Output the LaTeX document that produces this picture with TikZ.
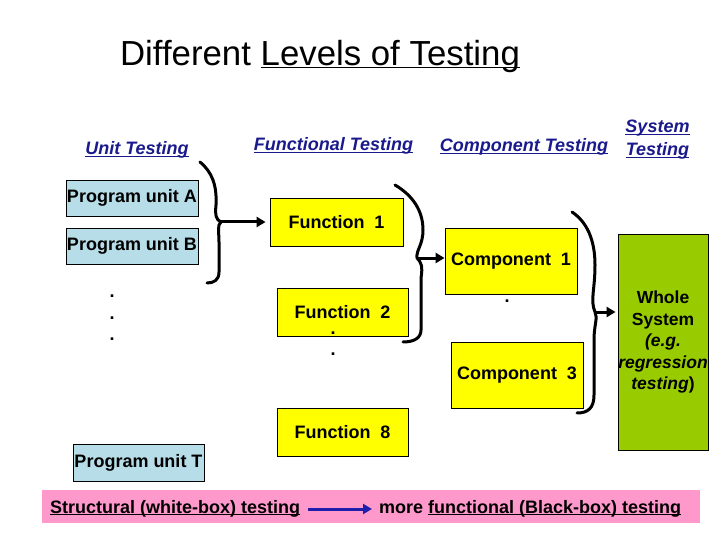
\documentclass[tikz,border=0pt]{standalone}
\usepackage{fontspec}
\setmainfont{Liberation Sans}
\usetikzlibrary{arrows.meta}
\definecolor{hdrblue}{RGB}{26,26,140}
\definecolor{arrblue}{RGB}{30,30,170}
\definecolor{unitblue}{RGB}{183,221,232}
\definecolor{boxyellow}{RGB}{255,255,0}
\definecolor{sysgreen}{RGB}{153,204,0}
\definecolor{barpink}{RGB}{255,153,204}
\newcommand{\myul}[1]{\leavevmode\setbox0\hbox{#1}\rlap{\rule[-2.4pt]{\wd0}{1.3pt}}\box0}
\tikzset{
  lbl/.style={font=\fontsize{18}{21}\selectfont\bfseries, inner sep=0pt},
  hdr/.style={font=\fontsize{18}{21}\selectfont\bfseries\itshape, text=hdrblue, inner sep=0pt, anchor=base},
  unitbox/.style={draw=black, line width=0.8pt, fill=unitblue, lbl, minimum width=132pt, minimum height=36pt},
  funbox/.style={draw=black, line width=0.8pt, fill=boxyellow, lbl, minimum width=132pt, minimum height=48pt},
  compbox/.style={draw=black, line width=0.8pt, fill=boxyellow, lbl, minimum width=132pt, minimum height=66pt},
  brace/.style={line width=3pt, line cap=round, line join=round},
  barrow/.style={line width=3pt, -{Triangle[length=9pt,width=10pt]}},
  dotlbl/.style={lbl, anchor=base, text height=2.5pt, text depth=0pt},
}
\begin{document}
\begin{tikzpicture}[x=1pt,y=-1pt]
\useasboundingbox (0,0) rectangle (720,540);
% title
\node[font=\fontsize{34.8}{40}\selectfont, inner sep=0pt, anchor=base] (title) at (320,66) {Different \myul{Levels of Testing}};
% headers
\node[hdr] (hunit) at (137,155) {\myul{Unit Testing}};
\node[hdr] (hfun) at (333.5,151) {\myul{Functional Testing}};
\node[hdr] (hcomp) at (524,152) {\myul{Component Testing}};
\node[hdr] (hsys1) at (657.5,133) {\myul{System}};
\node[hdr] (hsys2) at (657.5,156) {\myul{Testing}};
% unit boxes
\node[unitbox] (pa) at (132,198) {Program unit A};
\node[unitbox] (pb) at (132,246) {Program unit B};
\node[unitbox, minimum width=131pt, minimum height=37pt] (pt) at (138.5,462.5) {Program unit T};
\node[dotlbl] (ud1) at (112,297) {.};
\node[dotlbl] (ud2) at (112,319) {.};
\node[dotlbl] (ud3) at (112,340) {.};
% function boxes
\node[funbox, minimum width=133pt] (f1) at (336.5,222) {Function~~1};
\node[funbox, minimum width=131pt] (f2) at (342.5,312) {Function~~2};
\node[funbox, minimum width=131pt] (f8) at (342.5,432) {Function~~8};
\node[dotlbl] (fd1) at (333,334) {.};
\node[dotlbl] (fd2) at (333,355) {.};
% component boxes
\node[compbox] (c1) at (511,261) {Component~~1};
\node[compbox] (c3) at (517,375) {Component~~3};
\node[dotlbl] (cd1) at (507,302) {.};
% system box
\node[draw=black, line width=0.8pt, fill=sysgreen, minimum width=90pt, minimum height=216pt, inner sep=0pt] (sys) at (663,342) {};
\node[lbl, align=center, font=\fontsize{17.5}{21.5}\selectfont\bfseries] (systxt) at (663,342) {Whole\\System\\\textit{(e.g.}\\\textit{regression}\\\textit{testing})};
% braces
\draw[brace] (200,162) .. controls (212,172) and (217,185) .. (216,205) .. controls (215,215) and (216,220) .. (221,222) .. controls (217,225) and (219,232) .. (219,242) -- (219,272) .. controls (219,280) and (214,283) .. (207,283);
\coordinate (b1) at (221,222);
\draw[brace] (395,185) .. controls (412,195) and (423,210) .. (423,230) .. controls (423,245) and (416,250) .. (417,258) .. controls (421,262) and (423,266) .. (421,278) -- (421,330) .. controls (421,338) and (414,342) .. (403,342);
\coordinate (b2) at (417,258);
\draw[brace] (572,212) .. controls (587,222) and (595,240) .. (595,265) .. controls (595,290) and (590,300) .. (595,312) .. controls (598,318) and (594,325) .. (594,340) -- (594,395) .. controls (594,408) and (588,413) .. (577,413);
\coordinate (b3) at (595,312);
% brace arrows
\draw[barrow] (b1) -- ([xshift=-4pt]f1.west);
\draw[barrow] (b2) -- (b2 -| c1.west);
\draw[barrow] (b3) -- ([xshift=-2pt]b3 -| sys.west);
% bottom bar
\node[fill=barpink, minimum width=658pt, minimum height=33pt, inner sep=0pt] (bar) at (371,506.5) {};
\node[lbl, anchor=base west] (struct) at (50,513) {\myul{Structural (white-box) testing}};
\node[lbl, anchor=base west] (func) at (379,513) {more \myul{functional (Black-box) testing}};
\coordinate (ba) at ([xshift=8pt,yshift=4pt]struct.base east);
\coordinate (bb) at ([xshift=-7pt,yshift=4pt]func.base west);
\draw[barrow, arrblue] (ba) -- (bb);
\end{tikzpicture}
\end{document}
